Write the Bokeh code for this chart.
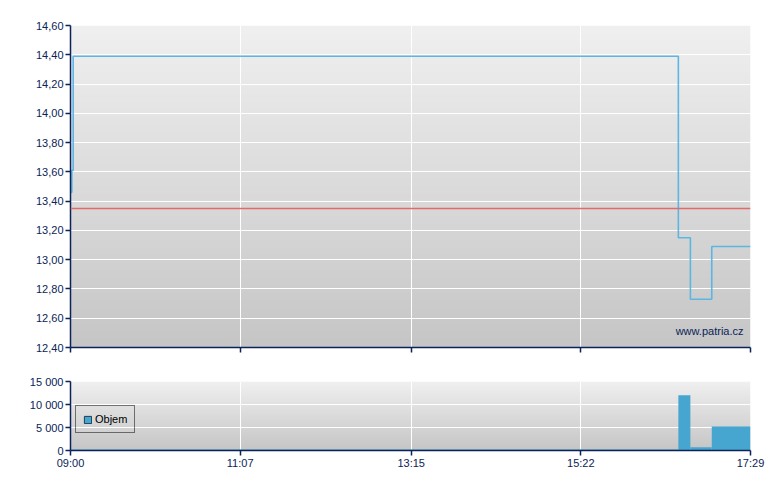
import numpy as np
from bokeh.plotting import figure
from bokeh.layouts import column
from bokeh.models import (Range1d, FixedTicker, Span, Label, Legend, LegendItem,
                          ColumnDataSource)
from bokeh.embed import file_html
from bokeh.resources import INLINE

# ---------------- data ----------------
trade_times = ["09:00", "09:01", "09:02", "16:35", "16:44", "17:00"]
trade_prices = [13.46, 13.61, 14.39, 13.15, 12.73, 13.09]
trade_volumes = [200, 200, 200, 12000, 700, 5200]
close_time = "17:29"
prev_close = 13.35

price_ticks = [12.40, 12.60, 12.80, 13.00, 13.20, 13.40, 13.60, 13.80, 14.00, 14.20, 14.40, 14.60]
price_tick_labels = ["12,40", "12,60", "12,80", "13,00", "13,20", "13,40",
                     "13,60", "13,80", "14,00", "14,20", "14,40", "14,60"]
volume_ticks = [0, 5000, 10000, 15000]
volume_tick_labels = ["0", "5 000", "10 000", "15 000"]
time_tick_labels = ["09:00", "11:07", "13:15", "15:22", "17:29"]
series_name = "Objem"
watermark = "www.patria.cz"


def minutes(t):
    h, m = t.split(":")
    return (int(h) - 9) * 60 + int(m)


t0 = minutes("09:00")
t_end = minutes(close_time)
xs = [minutes(t) for t in trade_times]
time_ticks = [minutes(t) for t in time_tick_labels]

# ---------------- styles ----------------
FONT = "Liberation Sans"
NAVY = "#0b2358"
LINE_BLUE = "#5cb6e2"
BAR_BLUE = "#46a6d0"


def gradient(top, bottom, n=256):
    vals = np.linspace(bottom, top, n).astype(np.uint32)
    img = np.empty((n, 1), dtype=np.uint32)
    view = img.view(dtype=np.uint8).reshape((n, 1, 4))
    view[:, 0, 0] = vals
    view[:, 0, 1] = vals
    view[:, 0, 2] = vals
    view[:, 0, 3] = 255
    return img


def style(p, ymin, ymax, yticks, ylabels, show_xlabels):
    p.outline_line_color = None
    p.background_fill_color = "white"
    p.border_fill_color = "white"
    p.image_rgba(image=[gradient(240, 198)], x=t0, y=ymin, dw=t_end - t0, dh=ymax - ymin,
                 level="image")
    p.xgrid.grid_line_color = "white"
    p.ygrid.grid_line_color = "white"
    p.xgrid.grid_line_width = 1
    p.ygrid.grid_line_width = 1
    p.xgrid.ticker = FixedTicker(ticks=time_ticks)
    p.ygrid.ticker = FixedTicker(ticks=yticks)
    for ax in (p.xaxis[0], p.yaxis[0]):
        ax.axis_line_color = NAVY
        ax.axis_line_width = 1.5
        ax.major_tick_line_color = NAVY
        ax.major_tick_line_width = 1.5
        ax.major_tick_out = 5
        ax.major_tick_in = 0
        ax.minor_tick_line_color = None
        ax.major_label_text_font = FONT
        ax.major_label_text_font_size = "11px"
        ax.major_label_text_color = NAVY
    p.yaxis[0].ticker = FixedTicker(ticks=yticks)
    p.yaxis[0].major_label_overrides = {v: s for v, s in zip(yticks, ylabels)}
    p.yaxis[0].major_label_standoff = 2
    p.xaxis[0].ticker = FixedTicker(ticks=time_ticks)
    if show_xlabels:
        p.xaxis[0].major_label_overrides = {v: s for v, s in zip(time_ticks, time_tick_labels)}
        p.xaxis[0].major_label_standoff = 1
    else:
        p.xaxis[0].major_label_overrides = {v: "" for v in time_ticks}
        p.xaxis[0].major_label_standoff = 0


x_range = Range1d(t0, t_end)

# ---------------- price chart ----------------
p1 = figure(width=780, height=367, output_backend="svg", toolbar_location=None,
            x_range=x_range, y_range=Range1d(price_ticks[0], price_ticks[-1]),
            min_border_left=70, min_border_right=30, min_border_top=25, min_border_bottom=20)
style(p1, price_ticks[0], price_ticks[-1], price_ticks, price_tick_labels, False)

p1.add_layout(Span(location=prev_close, dimension="width", line_color="#e46a6a", line_width=1.6))
p1.step(xs + [t_end], trade_prices + [trade_prices[-1]], mode="after",
        line_color=LINE_BLUE, line_width=1.6)
p1.add_layout(Label(x=t_end, y=price_ticks[0], x_offset=-7, y_offset=17, text=watermark,
                    text_align="right", text_baseline="alphabetic", text_font=FONT,
                    text_font_size="11px", text_color=NAVY))

# ---------------- volume chart ----------------
p2 = figure(width=780, height=113, output_backend="svg", toolbar_location=None,
            x_range=x_range, y_range=Range1d(volume_ticks[0], volume_ticks[-1]),
            min_border_left=70, min_border_right=30, min_border_top=14, min_border_bottom=30)
style(p2, volume_ticks[0], volume_ticks[-1], volume_ticks, volume_tick_labels, True)

src = ColumnDataSource(dict(left=xs, right=xs[1:] + [t_end], top=trade_volumes))
bars = p2.quad(left="left", right="right", bottom=0, top="top", source=src,
               fill_color=BAR_BLUE, line_color=None)
key = p2.quad(left="left", right="right", bottom=0, top="top", source=src,
              fill_color=BAR_BLUE, line_color="#1d3c58", line_width=1)
key.visible = False
legend = Legend(items=[LegendItem(label=series_name, renderers=[key])],
                location=(5, 17), padding=7, spacing=0, margin=0,
                glyph_width=9, glyph_height=9, label_height=12, label_standoff=3,
                label_text_font=FONT, label_text_font_size="11px", label_text_color="black",
                border_line_color="black", border_line_width=1,
                background_fill_alpha=0, inactive_fill_alpha=0)
p2.add_layout(legend, "center")

layout = column(p1, p2, spacing=0)
open("out.html", "w").write(file_html(layout, INLINE))
